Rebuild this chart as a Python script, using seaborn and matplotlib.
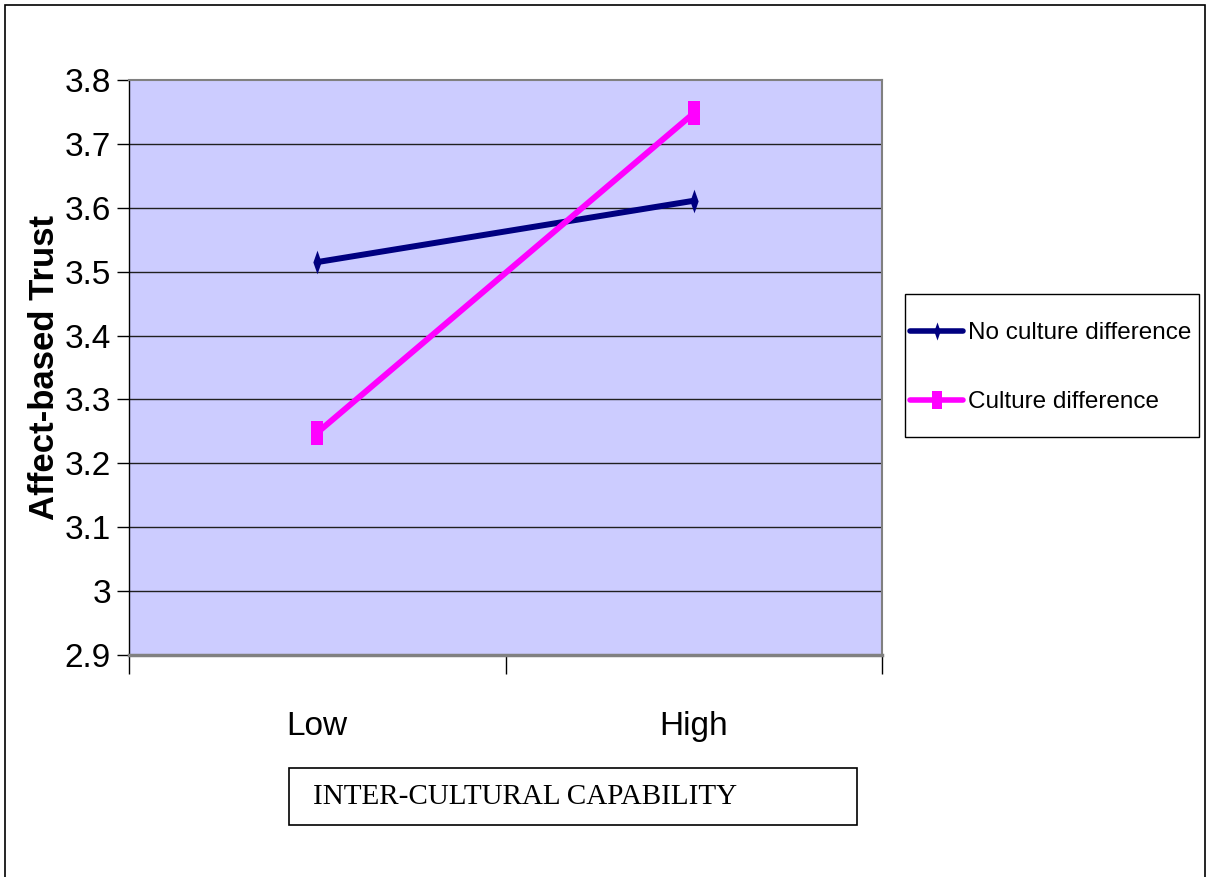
import matplotlib.pyplot as plt
import matplotlib.patches as mpatches
import numpy as np
import pandas as pd
import seaborn as sns

levels = ["Low", "High"]
no_culture_diff = [3.515, 3.611]
culture_diff = [3.248, 3.748]
series_names = ["No culture difference", "Culture difference"]
y_ticks = [2.9, 3.0, 3.1, 3.2, 3.3, 3.4, 3.5, 3.6, 3.7, 3.8]
y_tick_labels = ["2.9", "3", "3.1", "3.2", "3.3", "3.4", "3.5", "3.6", "3.7", "3.8"]

df = pd.DataFrame({
    "level": levels * 2,
    "trust": no_culture_diff + culture_diff,
    "group": [series_names[0]] * 2 + [series_names[1]] * 2,
})

sns.set_style("white")
plt.rcParams["font.family"] = ["Liberation Sans", "DejaVu Sans"]
plt.rcParams["text.color"] = "black"
plt.rcParams["xtick.color"] = "black"
plt.rcParams["ytick.color"] = "black"
plt.rcParams["axes.labelcolor"] = "black"

# tall marker shapes (the original chart is stretched vertically)
diamond = [(0, 1), (0.35, 0), (0, -1), (-0.35, 0)]
tall_square = [(-0.55, -1), (0.55, -1), (0.55, 1), (-0.55, 1)]

fig = plt.figure(figsize=(12.09, 8.77), dpi=100)
ax = fig.add_axes([129 / 1209, 1 - 655 / 877, 753 / 1209, 575 / 877])
ax.set_facecolor("#CCCCFF")

for y in y_ticks[1:-1]:
    ax.axhline(y, color="#202020", lw=1, zorder=1)

sns.lineplot(
    data=df, x="level", y="trust", hue="group", style="group",
    palette={series_names[0]: "#000080", series_names[1]: "#FF00FF"},
    markers={series_names[0]: diamond, series_names[1]: tall_square},
    dashes=False, lw=4.3, markersize=17, markeredgewidth=0,
    ax=ax, zorder=3, legend=True,
)

ax.set_xlim(-0.5, 1.5)
ax.set_ylim(2.9, 3.8)
ax.set_xticks([0, 1])
ax.set_xticklabels(levels, fontsize=24)
ax.set_xticks([-0.5, 0.5, 1.5], minor=True)
ax.tick_params(axis="x", which="major", length=0, pad=40)
ax.tick_params(axis="x", which="minor", length=14, width=1, color="black", direction="out", bottom=True)
ax.set_yticks(y_ticks)
ax.set_yticklabels(y_tick_labels, fontsize=24)
ax.tick_params(axis="y", length=9, width=1, color="black", direction="out", left=True, pad=4)
ax.set_xlabel("")
ax.set_ylabel("Affect-based Trust", fontsize=25, fontweight="bold")
ax.yaxis.set_label_coords(-0.09, 0.5)

for side in ["top", "right", "bottom"]:
    ax.spines[side].set_color("#808080")
    ax.spines[side].set_linewidth(1.5)
ax.spines["bottom"].set_linewidth(2.5)
ax.spines["left"].set_color("black")
ax.spines["left"].set_linewidth(1)

handles, labels = ax.get_legend_handles_labels()
leg = ax.legend(
    handles, labels, loc="upper left",
    bbox_to_anchor=(910 / 1209, 1 - 322 / 877), bbox_transform=fig.transFigure,
    fontsize=17.5, frameon=False,
    handlelength=2.2, handletextpad=0.2, labelspacing=1.95,
    borderpad=0, borderaxespad=0,
)
for h in leg.legend_handles:
    h.set_linewidth(4)
    h.set_markersize(13)

# legend frame
fig.add_artist(mpatches.Rectangle(
    (905 / 1209, 1 - 437 / 877), 294 / 1209, 143 / 877,
    transform=fig.transFigure, fill=False, edgecolor="black", lw=1))

fig.add_artist(mpatches.Rectangle(
    (289 / 1209, 1 - 825 / 877), 568 / 1209, 57 / 877,
    transform=fig.transFigure, fill=False, edgecolor="black", lw=1.2))
fig.text(313 / 1209, 1 - 797 / 877, "INTER-CULTURAL CAPABILITY",
         fontsize=21, family=["Liberation Serif", "DejaVu Serif"], va="center", ha="left")

fig.add_artist(mpatches.Rectangle(
    (5 / 1209, -0.05), 1200 / 1209, 1.05 - 5 / 877,
    transform=fig.transFigure, fill=False, edgecolor="black", lw=1.2))

fig.savefig("out.png", dpi=100, facecolor="white")
